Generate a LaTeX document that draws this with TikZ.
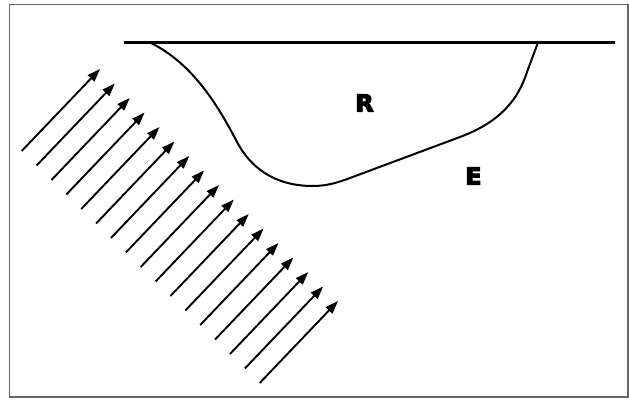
\documentclass[tikz,border=0pt]{standalone}
\usepackage{fontspec}
\setmainfont{DejaVu Sans}
\usetikzlibrary{arrows.meta}
\newcommand{\heavytext}[1]{\special{pdf:literal direct 2 Tr 1.3 w}#1\special{pdf:literal direct 0 Tr}}
\begin{document}
\begin{tikzpicture}[x=1pt,y=-1pt,
  frame/.style={draw=black!60,line width=1.5pt},
  surface/.style={line width=2.5pt},
  boundary/.style={line width=2pt,line join=round},
  ray/.style={line width=1.9pt,-{Triangle[length=13pt,width=9pt]}},
  lbl/.style={font=\fontsize{23.5}{23.5}\selectfont\bfseries,inner sep=0pt}]
\useasboundingbox (0,0) rectangle (629,399);
\fill[white] (0,0) rectangle (629,399);
\draw[frame] (9.5,4.5) rectangle (628,397);
% surface line
\coordinate (sl) at (124,42.5);
\coordinate (sr) at (615,42.5);
\draw[surface] (sl) -- (sr);
% boundary curve
\coordinate (c0) at (150,42.5);
\coordinate (c1) at (236,140);
\coordinate (c2) at (313,186);
\coordinate (c3) at (350,178);
\coordinate (c4) at (460,137);
\coordinate (c5) at (527,72);
\coordinate (c6) at (538,42.5);
\draw[boundary] (c0) .. controls (190,62) and (215,100) .. (c1)
  .. controls (250,168) and (275,186) .. (c2)
  .. controls (328,186) and (340,181.7) .. (c3)
  -- (c4) .. controls (500,122) and (518,100) .. (c5) -- (c6);
% labels
\node[lbl] (R) at (364.5,103) {\heavytext{R}};
\node[lbl] (E) at (473.5,176) {\heavytext{E}};
% incident rays
\foreach \i in {0,...,16}{
  \coordinate (tip\i) at ({100+14.875*\i},{69+14.5*\i});
  \coordinate (tail\i) at ({21.7+14.875*\i},{151+14.5*\i});
  \draw[ray] (tail\i) -- (tip\i);
}
\end{tikzpicture}
\end{document}
